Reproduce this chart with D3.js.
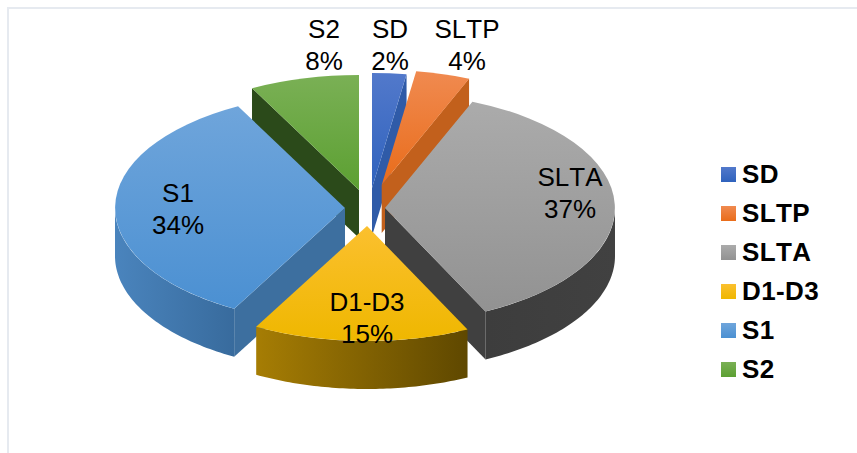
<!DOCTYPE html>
<html><head><meta charset="utf-8">
<script src="https://cdn.jsdelivr.net/npm/d3@7"></script>
<style>html,body{margin:0;background:#fff}svg{display:block}text{font-family:"Liberation Sans",Arial,sans-serif;font-kerning:none}</style>
</head><body><div id="c"></div>
<script>
const categories=["SD","SLTP","SLTA","D1-D3","S1","S2"];
const values=[2.4,3.8,36.6,15.2,34.3,7.7];
const percentLabels=["2%","4%","37%","15%","34%","8%"];

// layout and style, per category
const W=857,H=453,RX=230,RY=115,DEPTH=48;
const apexX=[372,381.7,385,367,345,359], apexY=[188,185,208,226,208,190];
const labelX=[390,467,570,367,178,324], labelY=[70,70,218,343,234,70];
const topColors=[["#5279cb","#2f62bd"],["#f08a50","#e96c1a"],["#ababab","#929292"],["#fbc02f","#efb700"],["#6fa5db","#4b90d2"],["#7ab055","#5ca032"]];
const edgeColors=["#2f5ba8","#c2601c","#404040","#6b5000","#3d6f9f","#2b4a1a"];
const wallColors=[["#2f5ba8","#2f5ba8"],["#c2601c","#c2601c"],["#3d3d3d","#414141"],["#a67d04","#5f4800"],["#4a84bd","#386b9d"],["#2b4a1a","#2b4a1a"]];
const drawOrder=[5,0,1,2,4,3];

const svg=d3.select("#c").append("svg").attr("width",W).attr("height",H);
svg.append("rect").attr("width",W).attr("height",H).attr("fill","#fff");
svg.append("path").attr("d",`M8,${H}V8H${W}`).attr("fill","none").attr("stroke","#e6eaf0").attr("stroke-width",2);

const defs=svg.append("defs");
function grad(id,c,h){
  const g=defs.append("linearGradient").attr("id",id).attr("x1",0).attr("y1",0).attr("x2",h?1:0).attr("y2",h?0:1);
  g.append("stop").attr("offset",0).attr("stop-color",c[0]);
  g.append("stop").attr("offset",1).attr("stop-color",c[1]);
}
categories.forEach((c,i)=>{grad("t"+i,topColors[i],false);grad("w"+i,wallColors[i],true);});

const arcs=d3.pie().sort(null).value(d=>d)(values);
const unit=d3.arc().innerRadius(0).outerRadius(1);
const line=d3.line();
const px=(i,a)=>apexX[i]+RX*Math.sin(a), py=(i,a)=>apexY[i]-RY*Math.cos(a);
const PI=Math.PI;

const g=svg.append("g");
drawOrder.forEach(i=>{
  const a=arcs[i], s=g.append("g");
  const edges=[];
  if(Math.sin(a.endAngle)>1e-6) edges.push(a.endAngle);
  if(Math.sin(a.startAngle)<-1e-6) edges.push(a.startAngle);
  edges.forEach(e=>{
    s.append("path").attr("fill",edgeColors[i]).attr("d",line([
      [apexX[i],apexY[i]],[px(i,e),py(i,e)],[px(i,e),py(i,e)+DEPTH],[apexX[i],apexY[i]+DEPTH]
    ])+"Z");
  });
  const lo=Math.max(a.startAngle,PI/2), hi=Math.min(a.endAngle,3*PI/2);
  if(hi>lo){
    const n=60, ang=d3.range(n+1).map(k=>lo+(hi-lo)*k/n);
    const pts=ang.map(t=>[px(i,t),py(i,t)]).concat(ang.slice().reverse().map(t=>[px(i,t),py(i,t)+DEPTH]));
    s.append("path").attr("fill",`url(#w${i})`).attr("d",line(pts)+"Z");
  }
  s.append("path")
    .attr("transform",`translate(${apexX[i]},${apexY[i]}) scale(${RX},${RY})`)
    .attr("fill",`url(#t${i})`)
    .attr("d",unit(a));
});

categories.forEach((c,i)=>{
  const t=svg.append("text").attr("text-anchor","middle").attr("font-size",26).attr("fill","#000");
  t.append("tspan").attr("x",labelX[i]).attr("y",labelY[i]-32).text(c);
  t.append("tspan").attr("x",labelX[i]).attr("y",labelY[i]).text(percentLabels[i]);
});

const legend=svg.append("g");
categories.forEach((c,i)=>{
  const y=167+i*39;
  legend.append("rect").attr("x",721).attr("y",y).attr("width",15).attr("height",15).attr("fill",`url(#t${i})`);
  legend.append("text").attr("x",742).attr("y",y+15.5).attr("font-size",26).attr("font-weight","bold").attr("letter-spacing",0.4).attr("fill","#000").text(c);
});
</script></body></html>
